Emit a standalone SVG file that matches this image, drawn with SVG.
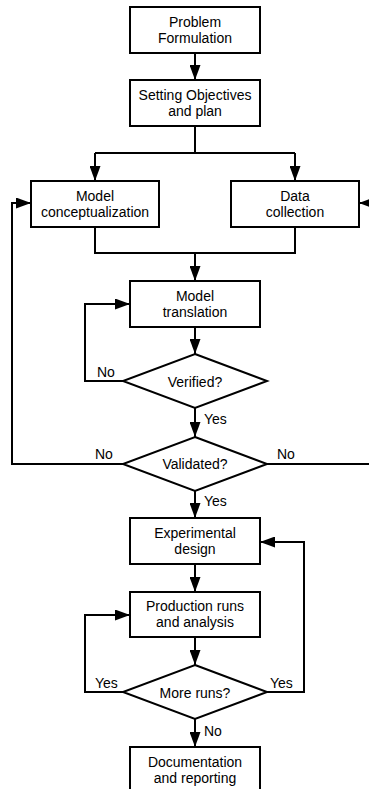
<svg xmlns="http://www.w3.org/2000/svg" width="369" height="789" viewBox="0 0 369 789">
<style>
  .box { fill: #fff; stroke: #000; stroke-width: 2; }
  .dia { fill: #fff; stroke: #000; stroke-width: 2; }
  .ln { fill: none; stroke: #000; stroke-width: 2; }
  .t { font-family: "Liberation Sans", Arial, Helvetica, sans-serif; font-size: 14px; fill: #000; text-anchor: middle; }
  .lbl { font-family: "Liberation Sans", Arial, Helvetica, sans-serif; font-size: 14px; fill: #000; }
</style>
<defs>
  <marker id="arr" markerUnits="userSpaceOnUse" markerWidth="15" markerHeight="11" refX="15" refY="5.5" orient="auto">
    <path d="M0,0 L15,5.5 L0,11 z" fill="#000"/>
  </marker>
</defs>
<rect width="369" height="789" fill="#fff"/>
<g id="connectors">
  <path class="ln" d="M195,53 V80" marker-end="url(#arr)"/>
  <path class="ln" d="M195,126 V153 M95,153 H295"/>
  <path class="ln" d="M95,153 V181" marker-end="url(#arr)"/>
  <path class="ln" d="M295,153 V181" marker-end="url(#arr)"/>
  <path class="ln" d="M95,227 V253 H295 V227"/>
  <path class="ln" d="M195,253 V281" marker-end="url(#arr)"/>
  <path class="ln" d="M195,327 V354" marker-end="url(#arr)"/>
  <path class="ln" d="M123,381 H85 V304 H130" marker-end="url(#arr)"/>
  <path class="ln" d="M195,408 V437" marker-end="url(#arr)"/>
  <path class="ln" d="M123,464 H12 V203 H31" marker-end="url(#arr)"/>
  <path class="ln" d="M267,464 H373 V203 H359" marker-end="url(#arr)"/>
  <path class="ln" d="M195,491 V518" marker-end="url(#arr)"/>
  <path class="ln" d="M195,564 V592" marker-end="url(#arr)"/>
  <path class="ln" d="M195,637 V665" marker-end="url(#arr)"/>
  <path class="ln" d="M123,692 H85 V615 H130" marker-end="url(#arr)"/>
  <path class="ln" d="M267,692 H304 V542 H260" marker-end="url(#arr)"/>
  <path class="ln" d="M195,719 V747" marker-end="url(#arr)"/>
  <text class="lbl" x="97" y="377">No</text>
  <text class="lbl" x="204" y="424">Yes</text>
  <text class="lbl" x="95" y="459">No</text>
  <text class="lbl" x="277" y="459">No</text>
  <text class="lbl" x="204" y="506">Yes</text>
  <text class="lbl" x="95" y="688">Yes</text>
  <text class="lbl" x="270" y="688">Yes</text>
  <text class="lbl" x="204" y="736">No</text>
</g>
<g id="problem">
  <rect class="box" x="130" y="7" width="130" height="46"/>
  <text class="t" x="195" y="27">Problem</text>
  <text class="t" x="195" y="43">Formulation</text>
</g>
<g id="objectives">
  <rect class="box" x="130" y="80" width="130" height="46"/>
  <text class="t" x="195" y="100">Setting Objectives</text>
  <text class="t" x="195" y="116">and plan</text>
</g>
<g id="conceptualization">
  <rect class="box" x="31" y="181" width="128" height="46"/>
  <text class="t" x="95" y="201">Model</text>
  <text class="t" x="95" y="217">conceptualization</text>
</g>
<g id="datacollection">
  <rect class="box" x="231" y="181" width="128" height="46"/>
  <text class="t" x="295" y="201">Data</text>
  <text class="t" x="295" y="217">collection</text>
</g>
<g id="translation">
  <rect class="box" x="130" y="281" width="130" height="46"/>
  <text class="t" x="195" y="301">Model</text>
  <text class="t" x="195" y="317">translation</text>
</g>
<g id="verified">
  <polygon class="dia" points="195,354 267,381 195,408 123,381"/>
  <text class="t" x="195" y="387">Verified?</text>
</g>
<g id="validated">
  <polygon class="dia" points="195,437 267,464 195,491 123,464"/>
  <text class="t" x="195" y="469">Validated?</text>
</g>
<g id="experimental">
  <rect class="box" x="130" y="518" width="130" height="46"/>
  <text class="t" x="195" y="538">Experimental</text>
  <text class="t" x="195" y="554">design</text>
</g>
<g id="production">
  <rect class="box" x="130" y="592" width="130" height="45"/>
  <text class="t" x="195" y="611">Production runs</text>
  <text class="t" x="195" y="627">and analysis</text>
</g>
<g id="moreruns">
  <polygon class="dia" points="195,665 267,692 195,719 123,692"/>
  <text class="t" x="195" y="698">More runs?</text>
</g>
<g id="documentation">
  <rect class="box" x="130" y="747" width="130" height="46"/>
  <text class="t" x="195" y="767">Documentation</text>
  <text class="t" x="195" y="783">and reporting</text>
</g>
</svg>
